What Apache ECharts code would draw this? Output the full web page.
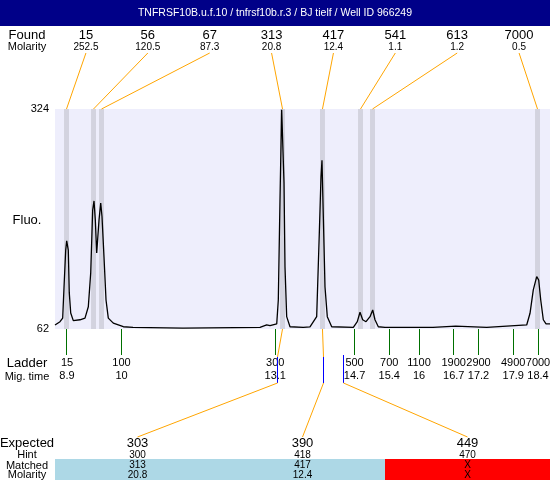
<!DOCTYPE html>
<html>
<head>
<meta charset="utf-8">
<title>TNFRSF10B electropherogram</title>
<script src="https://cdn.jsdelivr.net/npm/echarts@6/dist/echarts.min.js"></script>
<style>
  html, body { margin: 0; padding: 0; background: #fff; }
  #main { width: 550px; height: 480px; }
</style>
</head>
<body>
<div id="main"></div>
<script>
// electropherogram trace: migration time (s) / fluorescence
const traceTime = [8.658, 8.759, 8.813, 8.840, 8.874, 8.894, 8.926, 8.946, 8.975, 9.027, 9.162, 9.263,
  9.330, 9.378, 9.418, 9.445, 9.471, 9.499, 9.525, 9.546, 9.580, 9.606, 9.646, 9.687, 9.733, 9.834,
  10.036, 10.231, 11.240, 12.793, 12.928, 12.995, 13.130, 13.162, 13.196, 13.230, 13.250, 13.277,
  13.297, 13.331, 13.398, 13.666, 13.801, 13.936, 13.989, 14.023, 14.043, 14.070, 14.104, 14.150,
  14.239, 14.675, 14.755, 14.810, 14.864, 14.931, 15.012, 15.066, 15.112, 15.179, 15.314, 16.282,
  16.740, 17.366, 18.172, 18.239, 18.305, 18.374, 18.414, 18.455, 18.507, 18.562, 18.642];
const traceFluo = [66.8, 70.7, 75, 112, 156, 167, 156, 105, 81, 72, 73, 75,
  88.5, 128.5, 203.7, 214.5, 192, 152.5, 152.5, 192, 212, 196, 148, 96.5, 75, 69,
  64.7, 64, 63, 64, 66.8, 66, 68, 96.5, 215.6, 323, 324, 236,
  136, 76.7, 64.7, 64, 64.5, 76.7, 176, 243, 263, 196, 112, 76.7,
  64.7, 64, 70.7, 82, 73, 70.7, 76.7, 84.6, 73, 64.7, 64, 64,
  65.4, 64, 66.8, 80.7, 108.5, 124.3, 120.4, 96.5, 73, 68, 68];

// found peaks
const foundSize = ['15', '56', '67', '313', '417', '541', '613', '7000'];
const foundMolarity = ['252.5', '120.5', '87.3', '20.8', '12.4', '1.1', '1.2', '0.5'];
const foundTime = [8.890, 9.435, 9.596, 13.247, 14.053, 14.820, 15.062, 18.390];

// ladder
const ladderSize = ['15', '100', '300', '500', '700', '1100', '1900', '2900', '4900', '7000'];
const ladderTime = [8.9, 10, 13.1, 14.7, 15.4, 16, 16.7, 17.2, 17.9, 18.4];

// expected fragments
const expectedSize = ['303', '390', '449'];
const hintSize = ['300', '418', '470'];
const matchedSize = ['313', '417', 'X'];
const matchedMolarity = ['20.8', '12.4', 'X'];
const expectedTime = [13.136, 14.064, 14.467];
const matchedPeak = [3, 4, -1];

const FONT = '"Liberation Sans", Arial, sans-serif';
const ORANGE = '#FFA500';
const Y_MIN = 62, Y_MAX = 324;

function label(x, y, text, size, color) {
  return {
    type: 'text', x: x, y: y,
    style: { text: text, fill: color || '#000', font: size + 'px ' + FONT, align: 'center', verticalAlign: 'middle' }
  };
}
function seg(x1, y1, x2, y2, color) {
  return { type: 'line', shape: { x1: x1, y1: y1, x2: x2, y2: y2 }, style: { stroke: color, lineWidth: 1 } };
}
// snap to pixel centre so vertical 1px lines stay crisp
function crisp(v) { return Math.round(v - 0.5) + 0.5; }

const chart = echarts.init(document.getElementById('main'));

chart.setOption({
  animation: false,
  grid: {
    left: 55, top: 109, width: 495, height: 220,
    show: true, backgroundColor: '#EEEEFC', borderWidth: 0
  },
  xAxis: { type: 'value', min: 8.658, max: 18.642, show: false },
  yAxis: {
    type: 'value', min: Y_MIN, max: Y_MAX,
    axisLine: { show: false }, axisTick: { show: false }, splitLine: { show: false },
    axisLabel: { customValues: [Y_MIN, Y_MAX], color: '#000', fontSize: 11, fontFamily: FONT, margin: 6 }
  },
  graphic: [
    { type: 'rect', shape: { x: 0, y: 0, width: 550, height: 26 }, style: { fill: '#000088' } },
    label(275, 13, 'TNFRSF10B.u.f.10 / tnfrsf10b.r.3 / BJ tielf / Well ID 966249', 10.5, '#fff'),
    label(27, 35, 'Found', 13),
    label(27, 47, 'Molarity', 11),
    label(27, 220, 'Fluo.', 13),
    label(27, 363, 'Ladder', 13),
    label(27, 377, 'Mig. time', 11),
    label(27, 443, 'Expected', 13),
    label(27, 455, 'Hint', 11),
    label(27, 465.5, 'Matched', 11),
    label(27, 475, 'Molarity', 11)
  ],
  series: [
    {
      // peak bands
      type: 'custom', z: 1,
      data: foundTime.map(t => [t, Y_MAX]),
      renderItem: function (params, api) {
        const a = api.coord([api.value(0) - 0.05, Y_MAX]);
        const b = api.coord([api.value(0) + 0.05, Y_MIN]);
        return { type: 'rect', shape: { x: a[0], y: a[1], width: b[0] - a[0], height: b[1] - a[1] }, style: { fill: '#D3D3DF' } };
      }
    },
    {
      type: 'line', z: 3,
      data: traceTime.map((t, i) => [t, traceFluo[i]]),
      showSymbol: false,
      lineStyle: { color: '#000', width: 1.3 }
    },
    {
      // found labels and connectors
      type: 'custom', z: 4, clip: false,
      data: foundTime.map(t => [t, Y_MAX]),
      renderItem: function (params, api) {
        const i = params.dataIndex;
        const cs = params.coordSys;
        const p = api.coord([api.value(0), Y_MAX]);
        const lx = cs.x + (i + 0.5) * cs.width / foundSize.length;
        return {
          type: 'group', children: [
            seg(lx, cs.y - 56, p[0], cs.y, ORANGE),
            label(lx, cs.y - 74, foundSize[i], 13),
            label(lx, cs.y - 62, foundMolarity[i], 10)
          ]
        };
      }
    },
    {
      // ladder ticks
      type: 'custom', z: 4, clip: false,
      data: ladderTime.map(t => [t, Y_MIN]),
      renderItem: function (params, api) {
        const i = params.dataIndex;
        const p = api.coord([api.value(0), Y_MIN]);
        const x = crisp(p[0]);
        return {
          type: 'group', children: [
            seg(x, p[1], x, p[1] + 26, '#007000'),
            label(p[0], p[1] + 34, ladderSize[i], 11),
            label(p[0], p[1] + 47, String(ladderTime[i]), 11)
          ]
        };
      }
    },
    {
      // expected fragments table
      type: 'custom', z: 5, clip: false,
      data: expectedTime.map(t => [t, Y_MIN]),
      renderItem: function (params, api) {
        const j = params.dataIndex;
        const cs = params.coordSys;
        const bottom = cs.y + cs.height;
        const bx = crisp(api.coord([api.value(0), Y_MIN])[0]);
        const colW = cs.width / expectedSize.length;
        const lx = cs.x + (j + 0.5) * colW;
        const k = matchedPeak[j];
        const kids = [];
        if (k >= 0) {
          const fx = api.coord([foundTime[k], Y_MIN])[0];
          kids.push(seg(fx, bottom, bx, bottom + 28, ORANGE));
          kids.push(seg(bx, bottom + 28, bx, bottom + 54, '#0000FF'));
        } else {
          kids.push(seg(bx, bottom + 26, bx, bottom + 54, '#0000FF'));
        }
        kids.push(seg(bx, bottom + 54, lx, bottom + 108, ORANGE));
        kids.push({ type: 'rect', shape: { x: cs.x + j * colW, y: bottom + 130, width: colW, height: 21 },
          style: { fill: k >= 0 ? '#ADD8E6' : '#FF0000' } });
        kids.push(label(lx, bottom + 114, expectedSize[j], 13));
        kids.push(label(lx, bottom + 126, hintSize[j], 10));
        kids.push(label(lx, bottom + 136.5, matchedSize[j], 10));
        kids.push(label(lx, bottom + 146, matchedMolarity[j], 10));
        return { type: 'group', children: kids };
      }
    }
  ]
});
</script>
</body>
</html>
